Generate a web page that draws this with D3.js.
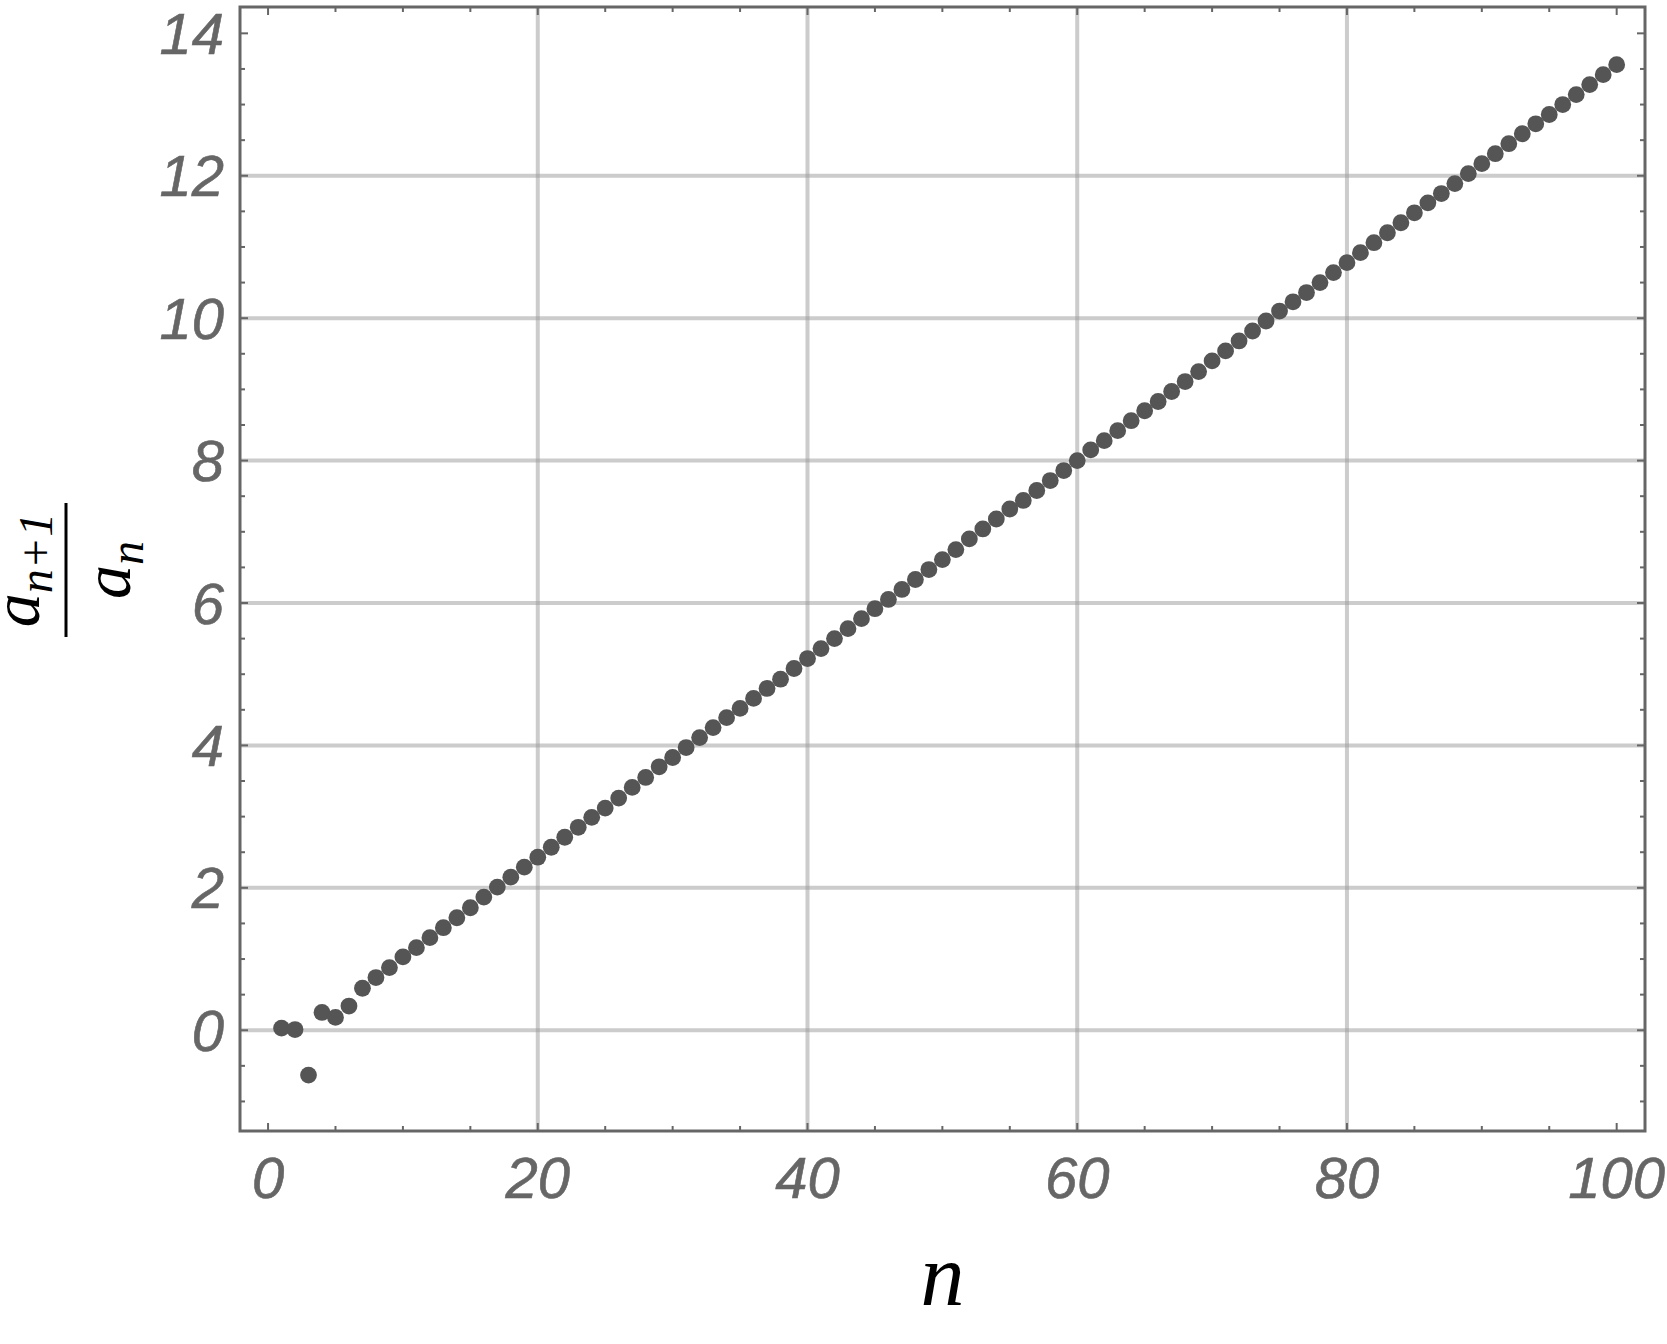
<!DOCTYPE html>
<html>
<head>
<meta charset="utf-8">
<script src="https://cdn.jsdelivr.net/npm/d3@7"></script>
<style>
  body { margin: 0; background: #fff; }
  svg { display: block; }
</style>
</head>
<body>
<svg id="chart"></svg>
<script>
// ratio a(n+1)/a(n), n = 1..100
const ratios = [
    0.03, 0.01, -0.63, 0.25, 0.18, 0.34, 0.59, 0.74, 0.88, 1.03,
    1.16, 1.30, 1.44, 1.58, 1.72, 1.87, 2.01, 2.15, 2.29, 2.43,
    2.57, 2.71, 2.85, 2.99, 3.12, 3.26, 3.41, 3.55, 3.70, 3.83,
    3.97, 4.11, 4.25, 4.39, 4.52, 4.66, 4.80, 4.93, 5.08, 5.22,
    5.36, 5.50, 5.64, 5.78, 5.92, 6.05, 6.19, 6.33, 6.47, 6.61,
    6.75, 6.90, 7.04, 7.18, 7.32, 7.44, 7.58, 7.72, 7.86, 8.00,
    8.15, 8.28, 8.42, 8.56, 8.70, 8.83, 8.97, 9.11, 9.25, 9.40,
    9.54, 9.68, 9.82, 9.96, 10.10, 10.23, 10.36, 10.50, 10.64, 10.78,
    10.92, 11.06, 11.20, 11.34, 11.48, 11.62, 11.75, 11.89, 12.03, 12.17,
    12.31, 12.45, 12.59, 12.73, 12.86, 13.00, 13.14, 13.28, 13.42, 13.56
];

const xTicks = [0, 20, 40, 60, 80, 100];
const yTicks = [0, 2, 4, 6, 8, 10, 12, 14];
const xGrid = [20, 40, 60, 80];
const yGrid = [0, 2, 4, 6, 8, 10, 12];

const width = 1667, height = 1344;
const frame = { left: 240, right: 1645, top: 7, bottom: 1131 };

const points = ratios.map((v, i) => ({ n: i + 1, v: v }));

const svg = d3.select("svg#chart")
    .attr("width", width)
    .attr("height", height);

const x = d3.scaleLinear()
    .domain([-2.08, 102.1])
    .range([frame.left, frame.right]);

const y = d3.scaleLinear()
    .domain([-1.415, 14.37])
    .range([frame.bottom, frame.top]);

// grid lines (semi-transparent so crossings come out darker)
const grid = svg.append("g").attr("class", "grid");

grid.selectAll("line.gx")
    .data(xGrid)
    .enter()
    .append("line")
    .attr("class", "gx")
    .attr("x1", d => x(d))
    .attr("x2", d => x(d))
    .attr("y1", frame.top)
    .attr("y2", frame.bottom)
    .attr("stroke", "#999")
    .attr("stroke-opacity", 0.5)
    .attr("stroke-width", 4);

grid.selectAll("line.gy")
    .data(yGrid)
    .enter()
    .append("line")
    .attr("class", "gy")
    .attr("x1", frame.left)
    .attr("x2", frame.right)
    .attr("y1", d => y(d))
    .attr("y2", d => y(d))
    .attr("stroke", "#999")
    .attr("stroke-opacity", 0.5)
    .attr("stroke-width", 4);

// frame ticks on all four sides, pointing inward
const ticks = svg.append("g").attr("class", "ticks")
    .attr("stroke", "#666")
    .attr("stroke-width", 2);

const xMinor = d3.range(0, 101, 5);
const yMinor = d3.range(-1, 14.01, 0.5);

ticks.selectAll("line.tb")
    .data(xMinor)
    .enter()
    .append("line")
    .attr("x1", d => x(d))
    .attr("x2", d => x(d))
    .attr("y1", frame.bottom)
    .attr("y2", d => frame.bottom - (d % 20 === 0 ? 8 : 5));

ticks.selectAll("line.tt")
    .data(xMinor)
    .enter()
    .append("line")
    .attr("x1", d => x(d))
    .attr("x2", d => x(d))
    .attr("y1", frame.top)
    .attr("y2", d => frame.top + (d % 20 === 0 ? 8 : 5));

ticks.selectAll("line.tl")
    .data(yMinor)
    .enter()
    .append("line")
    .attr("y1", d => y(d))
    .attr("y2", d => y(d))
    .attr("x1", frame.left)
    .attr("x2", d => frame.left + (d % 2 === 0 ? 8 : 5));

ticks.selectAll("line.tr")
    .data(yMinor)
    .enter()
    .append("line")
    .attr("y1", d => y(d))
    .attr("y2", d => y(d))
    .attr("x1", frame.right)
    .attr("x2", d => frame.right - (d % 2 === 0 ? 8 : 5));

// the frame itself
svg.append("rect")
    .attr("x", frame.left)
    .attr("y", frame.top)
    .attr("width", frame.right - frame.left)
    .attr("height", frame.bottom - frame.top)
    .attr("fill", "none")
    .attr("stroke", "#666")
    .attr("stroke-width", 3);

// tick labels
const labelFont = "'Liberation Sans', Arial, sans-serif";

svg.append("g")
    .selectAll("text")
    .data(xTicks)
    .enter()
    .append("text")
    .attr("x", d => x(d))
    .attr("y", 1198)
    .attr("text-anchor", "middle")
    .attr("font-family", labelFont)
    .attr("font-style", "italic")
    .attr("font-size", 58)
    .attr("fill", "#666")
    .attr("stroke", "#666")
    .attr("stroke-width", 0.6)
    .text(d => d);

svg.append("g")
    .selectAll("text")
    .data(yTicks)
    .enter()
    .append("text")
    .attr("x", 224)
    .attr("y", d => y(d) + 20.5)
    .attr("text-anchor", "end")
    .attr("font-family", labelFont)
    .attr("font-style", "italic")
    .attr("font-size", 58)
    .attr("fill", "#666")
    .attr("stroke", "#666")
    .attr("stroke-width", 0.6)
    .text(d => d);

// points
svg.append("g")
    .attr("class", "points")
    .selectAll("circle")
    .data(points)
    .enter()
    .append("circle")
    .attr("cx", d => x(d.n))
    .attr("cy", d => y(d.v))
    .attr("r", 8.4)
    .attr("fill", "#555");

// axis labels
const mathFont = "'Liberation Serif', 'Times New Roman', serif";

svg.append("text")
    .attr("x", (frame.left + frame.right) / 2)
    .attr("y", 1305)
    .attr("text-anchor", "middle")
    .attr("font-family", mathFont)
    .attr("font-style", "italic")
    .attr("font-size", 88)
    .attr("fill", "#000")
    .text("n");

// y label: fraction a_{n+1} / a_n, rotated
const frac = svg.append("g")
    .attr("transform", "translate(66, 570) rotate(-90)");

frac.append("line")
    .attr("x1", -67)
    .attr("x2", 67)
    .attr("y1", 0)
    .attr("y2", 0)
    .attr("stroke", "#000")
    .attr("stroke-width", 3);

function subscripted(base, sub, baseline) {
    const t = frac.append("text")
        .attr("x", 0)
        .attr("y", baseline)
        .attr("text-anchor", "middle")
        .attr("font-family", mathFont)
        .attr("font-style", "italic")
        .attr("font-size", 68)
        .attr("fill", "#000");
    t.append("tspan").text(base);
    t.append("tspan")
        .attr("dy", 13)
        .attr("font-size", 48)
        .text(sub);
}

subscripted("a", "n+1", -27);
subscripted("a", "n", 64);
</script>
</body>
</html>
